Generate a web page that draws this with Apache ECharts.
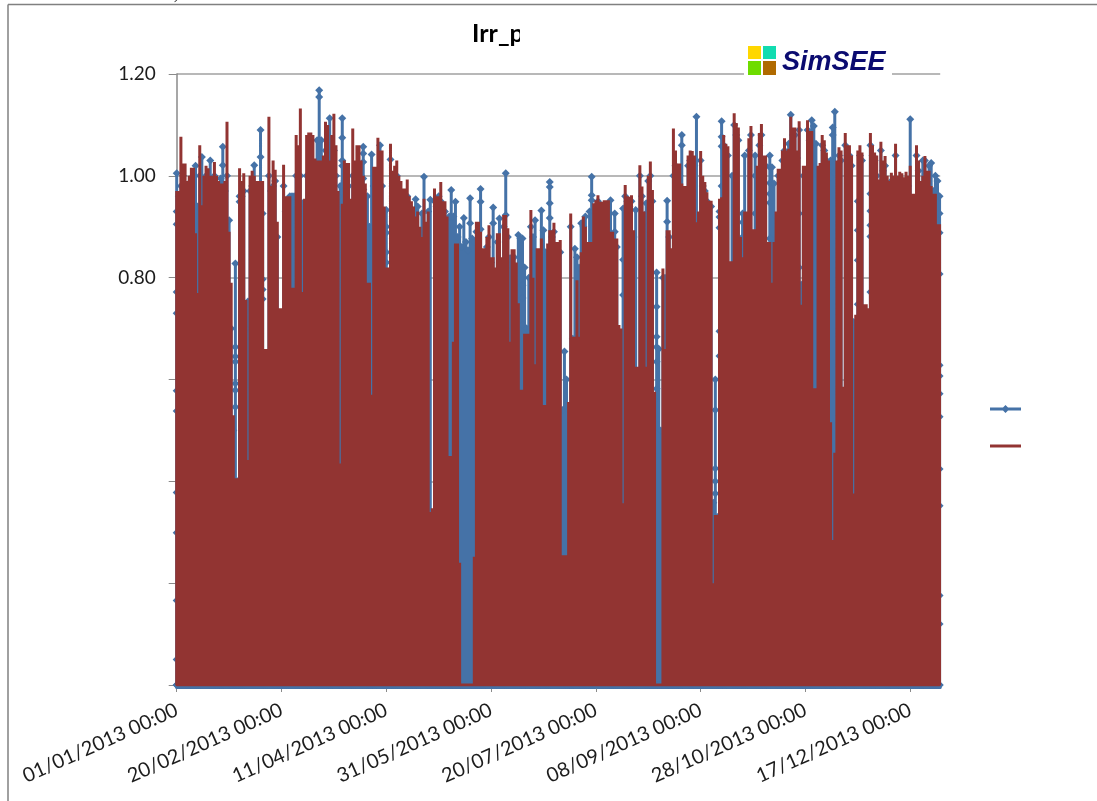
<!DOCTYPE html>
<html><head><meta charset="utf-8">
<style>html,body{margin:0;padding:0;background:#fff}#c{width:1097px;height:801px}</style>
<script src="https://cdn.jsdelivr.net/npm/echarts@6/dist/echarts.min.js"></script>
</head><body><div id="c"></div>
<script>
const title = 'Irr_p';
const logoText = 'SimSEE';
const seriesNames = ['Irr_p', 'Irr_p prom'];
const xTickDays = [0, 50, 100, 150, 200, 250, 300, 350];
const xTickLabels = ['01/01/2013 00:00','20/02/2013 00:00','11/04/2013 00:00','31/05/2013 00:00','20/07/2013 00:00','08/09/2013 00:00','28/10/2013 00:00','17/12/2013 00:00'];
const yTicks = [0.8, 1.0, 1.2];
const yTickLabels = ['0.80', '1.00', '1.20'];
const redPeaks = [
.97,.97,1.077,1.024,1.024,.99,1.0,1.016,1.016,.887,
.77,1.06,.942,1.0,1.02,1.015,1.0,1.0,1.027,1.0,
.99,.985,.985,.99,1.106,.89,.79,.53,.406,.406,
1.015,.99,1.005,.756,.442,1.0,1.01,1.0,.99,.99,
.99,.99,.66,.66,1.116,.98,1.03,1.012,.91,.74,
.74,1.022,.96,.96,.96,.78,.78,1.08,1.06,1.132,
.772,.955,1.08,1.085,1.085,1.08,1.034,1.03,1.03,1.03,
1.04,1.106,1.1,1.03,1.08,1.122,1.06,.97,.435,.945,
1.03,1.025,1.025,.955,1.093,1.03,1.06,1.06,1.03,1.0,
.985,.79,.79,.57,1.018,1.018,1.075,1.05,1.05,.94,
.82,.82,1.063,1.01,1.02,1.03,1.0,.99,.975,.975,
.993,.96,.95,.94,.92,.93,.90,.88,.955,.91,
.93,.34,.347,.975,.96,.96,.988,.95,.95,.92,
.45,.45,.674,.867,.867,.24,0,0,0,0,
0,0,.252,.91,.91,.89,.858,.858,.88,.903,
.84,.84,.82,.887,.887,.84,.923,.923,.897,.674,
.856,.856,.83,.75,.58,.58,.69,.69,.69,.933,
.80,.63,.858,.858,.877,.55,.55,.867,.893,.893,
.908,.87,.87,.874,.255,.255,.255,.556,.926,.684,
.684,.795,.684,.85,.92,.90,.87,.87,.87,.946,
.952,.962,.949,.949,.952,.952,.952,.89,.89,.877,
.877,.707,.70,.357,.982,.96,.959,.962,.893,.625,
.625,1.021,.979,.93,.625,1.0,1.028,.972,.576,0,
0,0,.818,.66,.893,.893,.858,1.093,1.05,1.024,
1.024,.985,.98,.98,1.04,1.05,1.049,1.04,.909,.93,
1.049,1.0,.988,.968,.951,.951,.2,.334,.334,.955,
.958,1.08,1.063,1.058,.832,.832,1.123,1.104,1.095,.88,
.84,.93,.93,1.074,1.098,.895,.895,1.02,1.084,1.102,
1.04,1.04,.87,.87,.79,.87,.93,1.014,1.014,1.05,
1.074,1.05,1.053,1.116,1.095,1.095,1.05,1.107,.747,1.02,
1.02,1.109,1.088,1.088,.583,.583,1.02,1.025,1.08,1.07,
1.046,1.03,.516,.285,.456,1.03,1.056,1.05,.586,1.084,
1.06,1.06,1.04,.376,.727,1.05,1.06,1.046,.748,.748,
.74,1.084,1.06,1.046,1.04,.993,1.067,1.03,1.039,1.0,
.99,1.006,1.0,1.063,1.0,1.008,1.005,.997,1.008,1.0,
1.02,.965,.965,1.06,1.03,.99,1.0,1.039,1.01,1.01,
.98,.965,.965,.905,.905];
const bluePeaks = [
1.005,.96,.98,1.0,.98,.97,.96,.99,1.0,1.02,
.94,1.0,1.037,.98,1.0,.99,1.03,.98,1.0,.98,
.96,.995,1.057,.97,1.0,.913,.70,.50,.828,.40,
.96,.96,.97,.70,.753,.97,.98,1.021,.97,.96,
1.09,.926,.60,.60,1.0,.97,.98,.99,.88,.70,
.70,.98,.93,.93,.96,.96,.96,1.0,1.0,1.0,
.946,.93,1.0,1.0,1.0,1.0,1.0,1.07,1.168,1.07,
1.0,1.05,1.05,1.113,1.05,1.05,1.0,.96,.98,1.113,
.99,.99,.98,.94,1.0,1.0,1.0,1.0,1.0,1.057,
.96,.96,.90,1.042,.98,1.0,1.0,1.06,.98,.90,
.933,.80,1.032,.98,.98,1.0,.97,.96,.95,.95,
.96,.94,.93,.93,.954,.94,.88,.926,.998,.90,
.93,.953,.33,.95,.94,.96,.95,.93,.93,.90,
.92,.972,.92,.949,.88,.90,.86,.917,.87,.854,
.956,.877,.87,.89,.89,.974,.84,.84,.86,.88,
.83,.938,.80,.87,.916,.83,.90,1.005,.88,.838,
.84,.84,.82,.884,.877,.877,.82,.70,.80,.90,
.88,.913,.84,.84,.932,.893,.85,.85,.988,.88,
.89,.85,.85,.85,.54,.655,.60,.54,.90,.68,
.857,.84,.82,.907,.90,.92,.85,.93,.998,.93,
.94,.95,.94,.93,.94,.94,.93,.952,.87,.926,
.86,.69,.69,.936,.96,.95,.94,.95,.88,.933,
.61,1.0,.96,.91,.946,.99,1.0,.95,.56,.81,
.66,.50,.80,.80,.951,.88,.84,1.0,1.02,1.0,
1.0,1.08,.96,.96,1.02,1.03,1.03,1.02,1.116,.92,
1.03,.98,.97,.95,.94,.94,.358,.60,.33,.93,
1.107,1.06,1.04,1.04,.82,1.0,1.1,1.08,1.07,.86,
.926,1.04,.91,1.05,1.08,.88,1.04,1.0,1.06,1.08,
1.02,1.02,.86,1.04,1.017,.985,.92,1.0,1.0,1.03,
1.05,1.03,1.063,1.12,1.08,1.08,1.035,1.09,.786,1.0,
1.0,1.09,1.07,1.109,1.098,1.063,1.0,1.0,1.06,1.05,
1.03,1.01,1.03,1.095,1.126,1.01,1.04,1.03,.57,1.06,
1.04,1.04,1.02,.713,.71,.95,1.04,1.03,.73,.73,
.72,1.06,1.04,1.03,1.0,.98,1.05,1.01,1.02,.98,
.97,.99,.98,1.04,.98,.99,.99,.98,.99,.98,
1.111,.95,.95,1.04,1.01,.97,1.03,1.03,1.0,1.02,
1.025,.97,1.0,.99,.96];
const blueShoulderDays = [0,22,28,30,40,41,60,68,73,79,89,100,131,140,145,151,157,165,178,198,209,213,224,229,234,241,257,259,260,270,276,283,297,312,313,323,325,331,364];
const blueShoulderValues = [
[.05,.166,.299,.378,.538,.578,.73,.772,.905,.93],[1.021],[.546,.579,.592,.635,.645,.664],[.949],[1.037],[.758,.777,.797],
[.79,.83,.84],[1.07,1.155],[1.07],[1.02,1.03,1.075],[.973,.995,1.027,1.044],[.83,.85,.888,.90],[.92],[.907],[.895,.949],[.907],[.923],
[.707,.76,.785,.82],[.917,.946,.978],[.952,.962],[.89],[.766,.835],[.897,.926],[.582,.635,.664,.684,.743],[.91],[1.06],[.376,.40,.425,.54],
[.646,.695,.898,.919],[.98,1.058,1.077],[.88,.909],[.926,1.0],[.877,.947,.965,.986,1.017],[.82,.926],[.997],[1.08],[.488,.534,.558],[.748,.834,.893],
[.772,.881,.903,.931,.965],[.12,.176,.352,.424,.527,.572,.607,.628,.807,.888,.926]];

function dailySpikes(peaks, extraDays, extraValues) {
  const out = [];
  peaks.forEach((p, d) => {
    out.push([d, 0]);
    const i = extraDays ? extraDays.indexOf(d) : -1;
    if (i >= 0) extraValues[i].forEach(v => out.push([d, v]));
    out.push([d, p]);
    out.push([d, 0]);
  });
  return out;
}

const chart = echarts.init(document.getElementById('c'), null, {renderer: 'canvas'});
const txt = '#1c1c1c', axisGrey = '#8a8a8a', blue = '#4572a7', red = '#923432';
chart.setOption({
  animation: false,
  backgroundColor: '#fff',
  title: {text: title, left: 472, top: 21, padding: 0,
    textStyle: {fontFamily: 'Lato', fontWeight: 'bold', fontSize: 25, color: '#000'}},
  legend: {left: 990, top: 403, orient: 'vertical', itemWidth: 31, itemHeight: 12, itemGap: 25,
    data: [
      {name: seriesNames[0], icon: 'path://M0 4H13L15.5 1.5L18 4H31V7H18L15.5 9.5L13 7H0Z'},
      {name: seriesNames[1], icon: 'path://M0 0H31V3H0Z'}
    ], formatter: () => ' ', selectedMode: false, padding: 0},
  grid: {left: 176.7, top: 74, width: 763.5, height: 611, containLabel: false},
  xAxis: {type: 'value', min: 0, max: 364.3, interval: 50, offset: 2,
    axisLine: {onZero: false, lineStyle: {color: blue, width: 3}},
    axisTick: {length: 5, inside: false, lineStyle: {color: axisGrey}, customValues: xTickDays},
    splitLine: {show: false},
    axisLabel: {customValues: xTickDays, rotate: 24, margin: 22, color: txt, fontFamily: 'Lato', fontSize: 20,
      formatter: v => xTickLabels[xTickDays.indexOf(v)]}},
  yAxis: {type: 'value', min: 0, max: 1.2, interval: 0.2,
    axisLine: {show: true, lineStyle: {color: axisGrey, width: 1.5}},
    axisTick: {show: true, length: 8, lineStyle: {color: axisGrey}},
    splitLine: {show: true, lineStyle: {color: '#a0a0a0', width: 1.5}},
    axisLabel: {customValues: yTicks, margin: 21, color: txt, fontFamily: 'Lato', fontSize: 19,
      formatter: v => yTickLabels[yTicks.findIndex(t => Math.abs(t - v) < 1e-6)]}},
  series: [
    {name: seriesNames[0], type: 'line', z: 2, data: dailySpikes(bluePeaks, blueShoulderDays, blueShoulderValues),
      symbol: 'diamond', symbolSize: 8, showSymbol: true, showAllSymbol: true, silent: true,
      lineStyle: {color: blue, width: 3}, itemStyle: {color: blue}},
    {name: seriesNames[1], type: 'line', z: 3, data: dailySpikes(redPeaks),
      symbol: 'none', silent: true,
      lineStyle: {color: red, width: 3}, itemStyle: {color: red}}
  ],
  graphic: [
    {type: 'rect', z: 90, shape: {x: 520, y: 20, width: 24, height: 34}, style: {fill: '#fff'}},
    {type: 'rect', z: 90, shape: {x: 744, y: 44, width: 148, height: 34}, style: {fill: '#fff'}},
    {type: 'rect', z: 91, shape: {x: 748, y: 46, width: 13, height: 13}, style: {fill: '#ffd700'}},
    {type: 'rect', z: 91, shape: {x: 763, y: 46, width: 13, height: 13}, style: {fill: '#12dcb0'}},
    {type: 'rect', z: 91, shape: {x: 748, y: 61, width: 13, height: 14}, style: {fill: '#6edc00'}},
    {type: 'rect', z: 91, shape: {x: 763, y: 61, width: 13, height: 14}, style: {fill: '#b06a00'}},
    {type: 'text', z: 91, x: 782, y: 49, style: {text: logoText, fill: '#0b0b70',
      font: 'italic bold 27px "Liberation Sans"'}},
    {type: 'line', z: 92, shape: {x1: 8, y1: 4.5, x2: 1097, y2: 4.5}, style: {stroke: '#808080', lineWidth: 1.5}},
    {type: 'line', z: 92, shape: {x1: 8, y1: 4.5, x2: 8, y2: 801}, style: {stroke: '#808080', lineWidth: 1.5}},
    {type: 'text', z: 92, x: 174, y: -12, style: {text: ')', fill: '#222', font: '15px "Liberation Serif"'}}
  ]
});
</script></body></html>
